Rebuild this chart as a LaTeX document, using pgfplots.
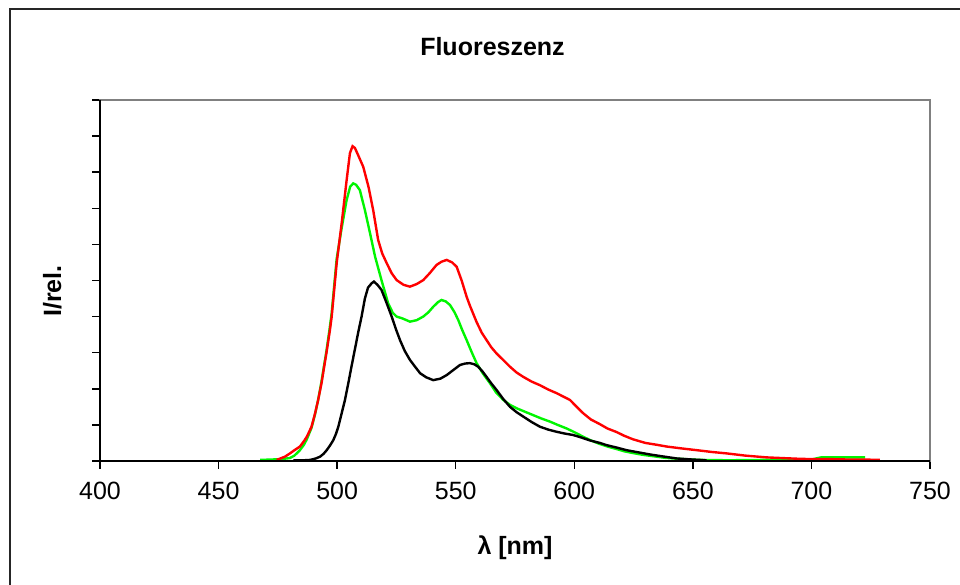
\documentclass[border=0pt]{standalone}
\usepackage{fontspec}
\setmainfont{Liberation Sans}
\usepackage{pgfplots}
\pgfplotsset{compat=1.18}
\usepackage{pgfplotstable}

\definecolor{exred}{RGB}{255,0,0}
\definecolor{exgreen}{RGB}{0,245,0}
\definecolor{framegray}{RGB}{128,128,128}

% emission spectra (lambda in nm, intensity in tick units)
\pgfplotstableread{
x y
467.5 0.03
472 0.04
476 0.05
480 0.08
482 0.15
484.3 0.3
486 0.45
487.2 0.6
489.2 0.92
490.7 1.3
492 1.7
493.4 2.2
494.5 2.65
495.5 3.05
496.9 3.7
497.7 4.1
499.8 5.6
501.9 6.45
504 7.23
505.5 7.6
506.8 7.69
508 7.65
509.6 7.5
511.7 6.95
513.9 6.3
516 5.66
518.7 5.01
521.5 4.37
523.5 4.1
525.1 4.0
527.5 3.95
530.7 3.86
533.5 3.9
536.3 4.0
538.5 4.12
540.5 4.27
542.5 4.4
544 4.46
545.8 4.42
547.6 4.32
549.5 4.12
551.1 3.9
552.8 3.62
554.6 3.35
556.7 3.02
558.8 2.71
561.5 2.42
564.5 2.15
567 1.9
570.1 1.69
573 1.55
575.7 1.46
579 1.37
582.7 1.27
586 1.18
589.8 1.09
593 1.0
596.8 0.9
600 0.8
603.8 0.67
607 0.57
610.8 0.47
614 0.4
617.9 0.33
621 0.27
624.8 0.22
629 0.17
634.7 0.12
638 0.09
641.7 0.07
647 0.05
653 0.03
665 0.02
680 0.03
700 0.04
704 0.1
715 0.1
722.6 0.1
}\green

\pgfplotstableread{
x y
481.5 0.02
486 0.02
488.6 0.03
491 0.07
492.8 0.12
494.3 0.2
495.6 0.3
497 0.43
498.4 0.58
499.5 0.75
500.5 0.95
501.9 1.32
503.3 1.69
504.7 2.15
506 2.6
507.5 3.1
509 3.6
510.3 4.0
511.7 4.5
513 4.8
514.5 4.92
515.5 4.97
517 4.88
518.7 4.74
520.9 4.37
523 4.0
524.8 3.65
526.5 3.35
528.5 3.05
530.7 2.8
533 2.6
535 2.43
537.5 2.32
540.5 2.24
543.5 2.28
546.2 2.38
549 2.52
551.8 2.66
554 2.7
556 2.71
557.8 2.68
559.5 2.61
561.3 2.48
563 2.33
565 2.15
567.2 1.97
570 1.72
572.9 1.5
575.7 1.35
578.5 1.23
582 1.08
585.5 0.95
589 0.87
592.5 0.81
596 0.76
599.5 0.72
603 0.65
606.6 0.57
610.8 0.5
613.6 0.44
618 0.37
622 0.3
627 0.24
632 0.18
637 0.13
643.2 0.07
650 0.04
655.8 0.02
}\black

\pgfplotstableread{
x y
474.5 0.03
478 0.12
480.1 0.21
482 0.3
484.3 0.4
486 0.55
487.2 0.67
489.2 0.95
490.7 1.32
492 1.69
493.4 2.15
494.5 2.6
495.5 3.0
496.9 3.6
497.7 4.0
499.8 5.48
501.9 6.58
504 7.78
505.4 8.53
506.5 8.72
507.5 8.67
509 8.45
511 8.15
513.2 7.6
515.2 6.95
517.3 6.12
519 5.75
520.9 5.48
523 5.2
525.1 5.01
528 4.88
530.7 4.83
533.5 4.9
536.3 5.01
539 5.2
541.9 5.43
544 5.52
546.2 5.57
548.5 5.5
550.4 5.38
552.5 5.0
554.6 4.55
556 4.3
558.8 3.85
561 3.55
563 3.35
565 3.15
567.2 2.98
570 2.8
572.9 2.61
575.7 2.45
578.5 2.33
582 2.2
585.5 2.1
589 1.98
592.5 1.88
595.5 1.78
598.2 1.69
601 1.5
603.8 1.32
607 1.15
610.8 1.02
614 0.9
617.9 0.8
621 0.7
624.8 0.6
630 0.5
634.7 0.45
639 0.40
645 0.35
651.6 0.3
658 0.25
664.3 0.21
672 0.15
681.1 0.1
688 0.08
695.2 0.06
702 0.05
709.2 0.05
716 0.04
722 0.04
728.9 0.03
}\red

\begin{document}
\begin{tikzpicture}[x=1pt,y=1pt]
\path[use as bounding box] (0,0) rectangle (960,585);
% chart area frame (only left and top edge are inside the picture)
\draw[line width=2pt, black!85] (9.5,-5) -- (9.5,575.5) -- (965,575.5);

\begin{axis}[
name=ax,
at={(100pt,124pt)}, anchor=south west,
scale only axis, width=830pt, height=361pt,
xmin=400, xmax=750, ymin=0, ymax=10,
xtick={400,450,...,750},
ytick={0,1,...,10}, yticklabels={},
tick align=outside, xtick pos=bottom, ytick pos=left,
major tick length=8pt,
every tick/.style={black, line width=1.5pt},
axis line style={framegray, line width=2pt},
/pgf/number format/assume math mode=true,
/pgf/number format/set thousands separator={},
ticklabel style={font=\fontsize{25}{30}\selectfont},
xticklabel style={yshift=-10pt},
clip=false,
]
\addplot[exgreen, line width=2.4pt] table {\green};
\addplot[black, line width=2.4pt] table {\black};
\addplot[exred, line width=2.4pt] table {\red};
\end{axis}
\draw[black, line width=2pt] (ax.north west) -- (ax.south west) -- (ax.south east);

\node[inner sep=0, font=\fontsize{25}{30}\selectfont\bfseries] at (492.5,538) {Fluoreszenz};
\node[inner sep=0, anchor=base, font=\fontsize{25}{30}\selectfont\bfseries] at (515,30) {λ [nm]};
\node[inner sep=0, anchor=base, rotate=90, font=\fontsize{25}{30}\selectfont\bfseries] at (61,294) {I/rel.};
\end{tikzpicture}
\end{document}
